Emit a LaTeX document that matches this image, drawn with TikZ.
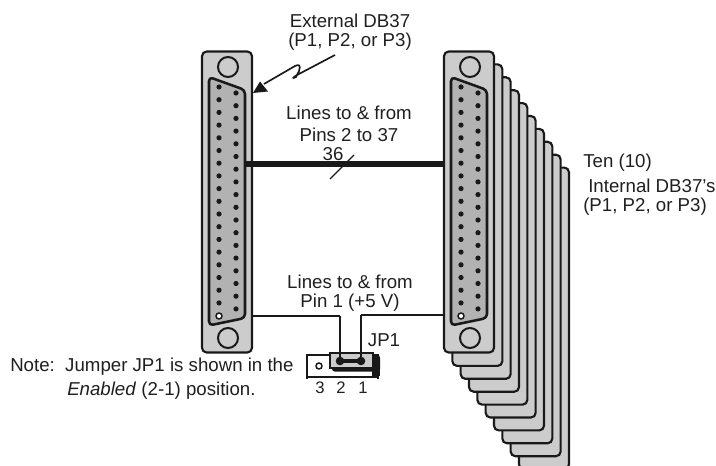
\documentclass[tikz,border=0pt]{standalone}
\usepackage{fontspec}
\setmainfont{Liberation Sans}
\tikzset{
  lbl/.style={inner sep=0pt,font=\fontsize{14pt}{16pt}\selectfont,text=black!88},
  smalllbl/.style={inner sep=0pt,font=\fontsize{12.5pt}{14pt}\selectfont,text=black!88},
  shell/.style={draw=black!90,line width=1.6pt,fill=black!20,rounded corners=3.5pt},
  dsub/.style={draw=black!90,line width=1.9pt,fill=black!30,rounded corners=3pt,line join=round},
  ring/.style={draw=black!90,line width=1.5pt,fill=black!20},
  wire/.style={draw=black!90,line width=1.2pt}
}
\newcommand{\pinset}[1]{%
  \begin{scope}[shift={(#1,0)}]
    \draw[shell] (202,51.5) rectangle (252,352.5);
    \draw[ring] (228,67) circle (10);
    \draw[ring] (228,338) circle (10);
    \draw[dsub] (209,77) -- (245,90) -- (245,318) -- (209,325.5) -- cycle;
    \foreach \n in {0,...,17} \fill[black!90] (219,87+12.7*\n) circle (2.6);
    \foreach \n in {0,...,17} \fill[black!90] (236,93+12.7*\n) circle (2.6);
    \draw[black!90,fill=white,line width=1.1pt] (219,316) circle (3);
  \end{scope}}
\begin{document}
\begin{tikzpicture}[x=0.75pt,y=-0.75pt]
\useasboundingbox (0,0) rectangle (716,466);
\begin{scope}
\clip (0,0) rectangle (716,466);
\foreach \i in {9,8,...,1}
  \draw[shell] ({444+8.33*\i},{51.5+12.9*\i}) rectangle ({494+8.33*\i},{353+12.9*\i});
\end{scope}
\pinset{0}
\pinset{242}
\coordinate (leftin) at (245,164);
\coordinate (rightin) at (444,164);
\draw[black!90,line width=3.8pt] (leftin) -- (rightin);
\coordinate (sa) at (330,179); \coordinate (sb) at (354,155);
\draw[black!90,line width=1pt] (sa) -- (sb);
\coordinate (lw) at (253,316); \coordinate (rw) at (444,315);
\coordinate (p2) at (340,361); \coordinate (p1) at (361,361);
% jumper
\draw[black!90,line width=1.2pt,fill=white] (307,355) rectangle (378,377);
\foreach \x in {307,378} \draw[black!90,line width=.9pt] (\x,377) -- (\x,379);
\fill[black!90,rounded corners=2pt] (332,355) rectangle (380,371.5);
\fill[black!90] (372,360) rectangle (380,376);
\draw[black!90,line width=1.4pt,fill=black!20] (330,353) rectangle (373,368);
\draw[black!90,line width=1.1pt,fill=white] (319,366) circle (3);
\draw[black!90,line width=2.4pt] (p2) -- (p1);
\fill[black!90] (p2) circle (4.3); \fill[black!90] (p1) circle (4.3);
\draw[wire] (lw) -- (340,316);
\draw[wire] (rw) -- (361,315);
\draw[black!90,line width=1.6pt] (340,315.5) -- (p2);
\draw[black!90,line width=1.6pt] (361,314.5) -- (p1);
% arrow
\coordinate (az) at (335,55); \coordinate (at) at (253,93);
\draw[black!90,line width=1.25pt,line join=round] (az) -- (297,75) .. controls (292,78) and (292,79) .. (296,77) -- (299,71) .. controls (301,65) and (299,64) .. (295,66) -- (264,84);
\fill[black!90] (at) -- (260,81.5) -- (268,91.5) -- cycle;
% labels
\node[lbl] (t1) at (350,21) {External DB37};
\node[lbl] (t2) at (350,42) {(P1, P2, or P3)};
\node[lbl] (t3) at (349,113) {Lines to \& from};
\node[lbl] (t4) at (349,135) {Pins 2 to 37};
\node[lbl] (t5) at (333,154) {36};
\node[lbl] (t6) at (350,282) {Lines to \& from};
\node[lbl] (t7) at (350,303) {Pin 1 (+5 V)};
\node[lbl] (t8) at (384,340) {JP1};
\node[smalllbl] (t9) at (320,388) {3};
\node[smalllbl] (t10) at (341,388) {2};
\node[smalllbl] (t11) at (363,388) {1};
\node[lbl,anchor=west] (t12) at (10,367) {Note:\ \ Jumper JP1 is shown in the};
\node[lbl,anchor=west] (t13) at (67,391) {\emph{Enabled} (2-1) position.};
\node[lbl,anchor=west] (t14) at (583,163) {Ten (10)};
\node[lbl,anchor=west] (t15) at (588,186) {Internal DB37's};
\node[lbl,anchor=west] (t16) at (583,207) {(P1, P2, or P3)};
\end{tikzpicture}
\end{document}
